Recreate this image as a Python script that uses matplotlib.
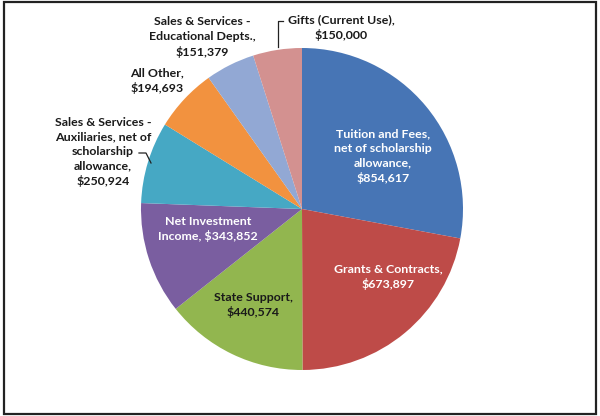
import matplotlib
matplotlib.use("Agg")
import matplotlib.pyplot as plt
from matplotlib.patches import Rectangle

categories = ["Tuition and Fees,\nnet of scholarship\nallowance,",
              "Grants & Contracts,",
              "State Support,",
              "Net Investment\nIncome,",
              "Sales & Services -\nAuxiliaries, net of\nscholarship\nallowance,",
              "All Other,",
              "Sales & Services -\nEducational Depts.,",
              "Gifts (Current Use),"]
values = [854617, 673897, 440574, 343852, 250924, 194693, 151379, 150000]
colors = ["#4775B5", "#BE4B48", "#92B64F", "#7A5EA0", "#46A8C4", "#F2923F", "#92A8D4", "#D39190"]

# label positions (pixel coords, top-left origin) and text colours
label_pos = [(383, 156), (388, 277), (253, 305), (208, 229), (103, 152), (157, 81), (202, 37), (341, 28)]
label_col = ["white", "white", "#1a1a1a", "white", "#1a1a1a", "#1a1a1a", "#1a1a1a", "#1a1a1a"]

W, H = 600, 416
fig = plt.figure(figsize=(W / 100, H / 100), dpi=100)
ax = fig.add_axes([0, 0, 1, 1])

cx, cy, r = 302, H - 209, 161
ax.pie(values, colors=colors, startangle=90, counterclock=False,
       center=(cx, cy), radius=r, frame=True,
       wedgeprops=dict(linewidth=0))
ax.set_xlim(0, W)
ax.set_ylim(0, H)
ax.set_aspect("equal")
ax.axis("off")

for cat, v, (x, y), c in zip(categories, values, label_pos, label_col):
    if cat.endswith("Income,"):
        txt = "Net Investment\nIncome, ${:,}".format(v)
    else:
        txt = cat + "\n${:,}".format(v)
    ax.text(x, H - y, txt, ha="center", va="center", color=c,
            fontsize=8.9, fontweight="bold", family=["Lato", "DejaVu Sans"],
            linespacing=1.38)

# leader lines
ax.plot([283, 278, 278], [H - 21, H - 21, H - 47], color="#222222", lw=0.9)
ax.plot([139, 146, 151], [H - 153, H - 153, H - 163], color="#222222", lw=0.9)

# frame
ax.add_patch(Rectangle((4, 2), 592, 412, fill=False, edgecolor="#222222", lw=1.6))

fig.savefig("out.png", dpi=100)
